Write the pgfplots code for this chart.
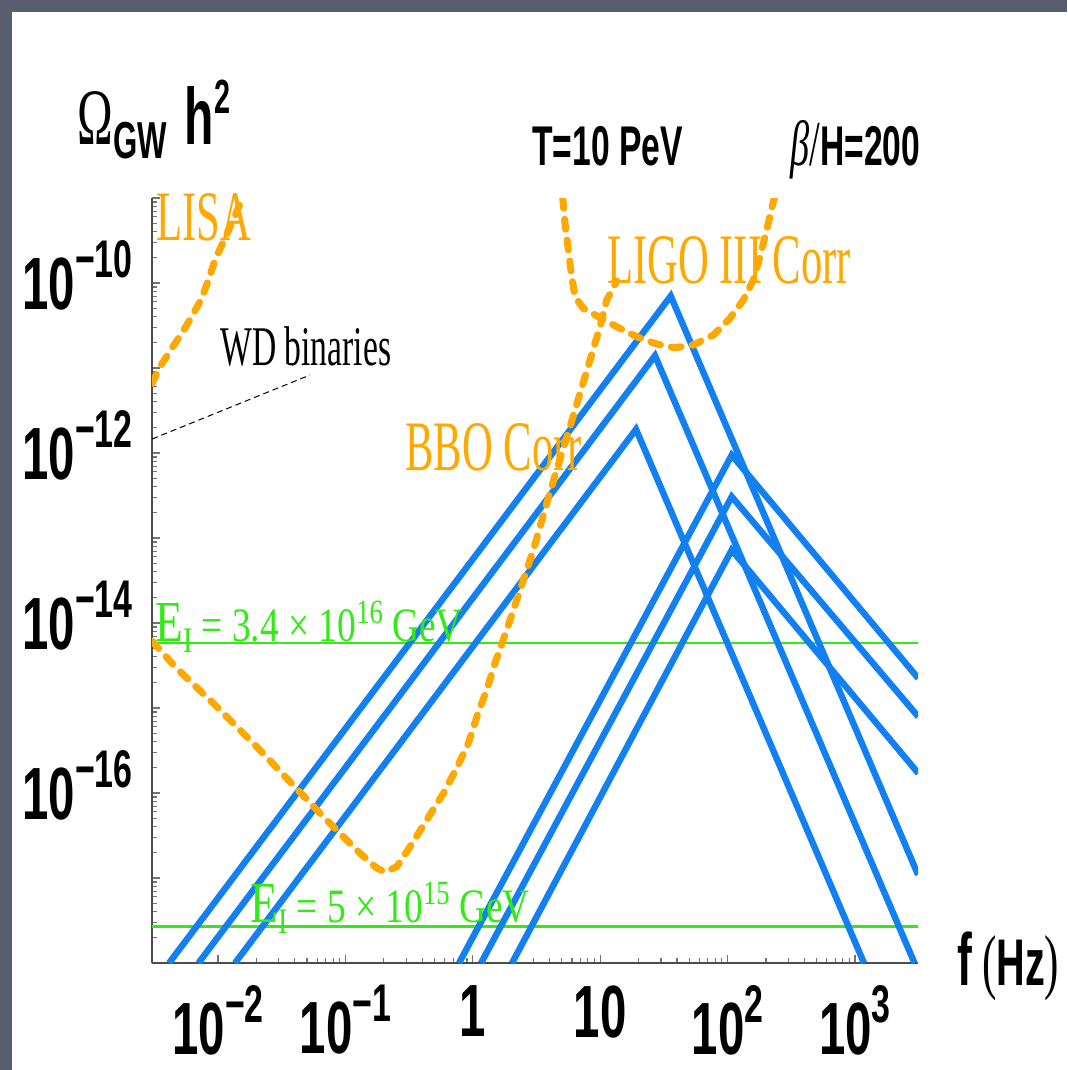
\documentclass[border=0pt]{standalone}
\usepackage{fontspec}
\usepackage{pgfplots}
\pgfplotsset{compat=1.18}
\newfontfamily\hv[FakeStretch=0.6]{Liberation Sans}
\newfontfamily\hvt[FakeStretch=0.64]{Liberation Sans}
\newfontfamily\tm[FakeStretch=0.6]{Liberation Serif}
\newfontfamily\tmg[FakeStretch=0.78]{Liberation Serif}
\definecolor{bgg}{RGB}{88,94,108}
\definecolor{bl}{RGB}{18,128,240}
\definecolor{orng}{RGB}{255,168,0}
\definecolor{grn}{RGB}{50,235,20}
\newcommand\tk[1]{{\hvt\bfseries\fontsize{37}{40}\selectfont 10\raisebox{16pt}{\fontsize{26.5}{27}\selectfont #1}}}
\newcommand\tkp[1]{{\hvt\bfseries\fontsize{37}{40}\selectfont #1}}
\begin{document}
\begin{tikzpicture}
\begin{scope}[x=0.5pt,y=-0.5pt]
\useasboundingbox (0,0) rectangle (1067,1070);
\fill[bgg] (0,0) rectangle (1067,1070);
\fill[white] (12,12) rectangle (1067,1070);
\end{scope}
\begin{axis}[
  at={(76pt,-481.5pt)}, anchor=south west,
  scale only axis, width=383pt, height=382.5pt,
  xmode=log, ymode=log,
  xmin=3.03e-3, xmax=3123, ymin=1e-18, ymax=1e-9,
  axis x line=bottom, axis y line=left,
  axis line style={-, draw=black!70, line width=0.9pt},
  tick align=inside, major tick length=4pt, minor tick length=2.5pt,
  every tick/.style={black!55, line width=0.6pt},
  xtick={1e-2,1e-1,1,10,100,1000},
  xticklabels={\tk{−2},\tk{−1},\tkp{1},\tkp{10},\tk{2},\tk{3}},
  ytick={1e-18,1e-17,1e-16,1e-15,1e-14,1e-13,1e-12,1e-11,1e-10,1e-9},
  yticklabels={,,\tk{−16},,\tk{−14},,\tk{−12},,\tk{−10},},
  xticklabel style={anchor=north, inner sep=0pt, yshift=-11pt},
  yticklabel style={anchor=base east, inner sep=0pt, xshift=-9.5pt, yshift=-13.25pt},
  clip=true,
]
% green horizontal lines
\addplot[grn, line width=1.3pt] coordinates {(3e-3,5.821e-15) (3200,5.821e-15)};
\addplot[grn, line width=1.3pt] coordinates {(3e-3,2.673e-18) (3200,2.673e-18)};
% WD binaries pointer
\addplot[black, line width=0.5pt, dash pattern=on 3pt off 2pt] coordinates {(3.034e-3,1.462e-12) (5.274e-2,8.279e-12)};
% blue spectra
\addplot[bl, line width=3.2pt, line join=miter] coordinates {(4.125e-3,1e-18) (35.76,7.03e-11) (3123,1.094e-17)};
\addplot[bl, line width=3.2pt, line join=miter] coordinates {(7.019e-3,1e-18) (26.92,1.396e-11) (2931,1e-18)};
\addplot[bl, line width=3.2pt, line join=miter] coordinates {(1.359e-2,1e-18) (19.10,1.901e-12) (1177,1e-18)};
\addplot[bl, line width=3.2pt, line join=miter] coordinates {(0.7792,1e-18) (107.7,9.462e-13) (3140,2.234e-15)};
\addplot[bl, line width=3.2pt, line join=miter] coordinates {(1.160,1e-18) (107.7,3.062e-13) (3140,7.907e-16)};
\addplot[bl, line width=3.2pt, line join=miter] coordinates {(2.031,1e-18) (107.7,7.228e-14) (3140,1.706e-16)};
% LISA
\addplot[orng, line width=3.5pt, line cap=round, dash pattern=on 5pt off 5.5pt] coordinates {
(3.034e-3,6.607e-12) (3.505e-3,1.035e-11) (4.331e-3,1.706e-11) (5.190e-3,2.559e-11)
(6.217e-3,4.018e-11) (7.448e-3,6.607e-11) (8.394e-3,1.084e-10) (9.474e-3,1.866e-10)
(1.100e-2,3.062e-10) (1.281e-2,5.035e-10) (1.571e-2,1.028e-9)};
% LIGO III Corr
\addplot[orng, line width=3.5pt, line cap=round, dash pattern=on 5pt off 5.5pt] coordinates {
(5.078,9.920e-10) (5.292,5.040e-10) (5.621,2.444e-10) (5.974,1.186e-10) (6.342,6.902e-11)
(7.367,5.035e-11) (9.663,4.018e-11) (13.48,3.062e-11) (19.34,2.333e-11) (27.77,1.914e-11)
(38.65,1.734e-11) (53.81,1.866e-11) (77.25,2.443e-11) (104.4,3.846e-11) (132.8,6.310e-11)
(159.1,1.084e-10) (179.6,2.037e-10) (202.7,4.207e-10) (228.4,9.036e-10) (235.6,1.084e-9)};
% BBO Corr
\addplot[orng, line width=3.5pt, line cap=round, dash pattern=on 5pt off 5.5pt] coordinates {
(3.034e-3,6.138e-15) (4.597e-3,3.062e-15) (9.186e-3,1.135e-15) (1.893e-2,3.846e-16)
(3.674e-2,1.358e-16) (6.707e-2,5.260e-17) (0.1302,1.954e-17) (0.1761,1.312e-17)
(0.2046,1.178e-17) (0.2527,1.358e-17) (0.3214,2.333e-17) (0.4346,4.808e-17)
(0.5868,9.908e-17) (0.7474,1.968e-16) (0.9220,3.846e-16) (1.098,8.670e-16)
(1.285,1.629e-15) (1.494,3.381e-15) (1.845,8.279e-15) (2.347,2.443e-14)
(2.985,7.228e-14) (3.803,2.559e-13) (4.556,6.310e-13) (5.794,2.042e-12)
(6.939,5.035e-12) (8.317,1.242e-11) (9.963,3.062e-11) (11.25,6.310e-11) (13.48,1.057e-10)};
\end{axis}
\begin{scope}[x=0.5pt,y=-0.5pt]
\node[anchor=base west, inner sep=0, text=orng] at (156,240) {\tm\fontsize{35.5}{36}\selectfont LISA};
\node[anchor=base west, inner sep=0, text=orng] at (607,283) {\tm\fontsize{35.5}{36}\selectfont LIGO III Corr};
\node[anchor=base west, inner sep=0, text=orng] at (405,470) {\tm\fontsize{35.5}{36}\selectfont BBO Corr};
\node[anchor=base west, inner sep=0] at (220,365) {\tm\fontsize{28}{30}\selectfont WD binaries};
\node[anchor=base west, inner sep=0, text=grn] at (155,641) {\tmg\fontsize{29}{30}\selectfont E\raisebox{-5.5pt}{\fontsize{18}{18}\selectfont I}\fontsize{24}{26}\selectfont{} = 3.4 × 10\raisebox{9pt}{\fontsize{17}{17}\selectfont 16} GeV};
\node[anchor=base west, inner sep=0, text=grn] at (250,922) {\tmg\fontsize{29}{30}\selectfont E\raisebox{-5.5pt}{\fontsize{18}{18}\selectfont I}\fontsize{24}{26}\selectfont{} = 5 × 10\raisebox{9pt}{\fontsize{17}{17}\selectfont 15} GeV};
\node[anchor=base west, inner sep=0] at (532,165) {\hv\bfseries\fontsize{28}{30}\selectfont T=10 PeV};
\node[anchor=base west, inner sep=0] at (790,165) {{\tm\itshape\fontsize{32}{32}\selectfont β}{\tm\fontsize{32}{32}\selectfont /}{\hv\bfseries\fontsize{28}{30}\selectfont H=200}};
\node[anchor=base west, inner sep=0] at (77,144) {{\tm\fontsize{40}{40}\selectfont Ω}\raisebox{-7pt}{\hv\bfseries\fontsize{26}{26}\selectfont GW}\hspace{9pt}{\hv\bfseries\fontsize{40}{40}\selectfont h}\raisebox{15.5pt}{\hv\bfseries\fontsize{24}{24}\selectfont 2}};
\node[anchor=base west, inner sep=0] at (957,985) {{\hv\bfseries\fontsize{37}{38}\selectfont f}\hspace{5pt}{\tm\fontsize{36}{36}\selectfont (}{\hv\bfseries\fontsize{33}{34}\selectfont Hz}{\tm\fontsize{36}{36}\selectfont )}};
\end{scope}
\end{tikzpicture}
\end{document}
